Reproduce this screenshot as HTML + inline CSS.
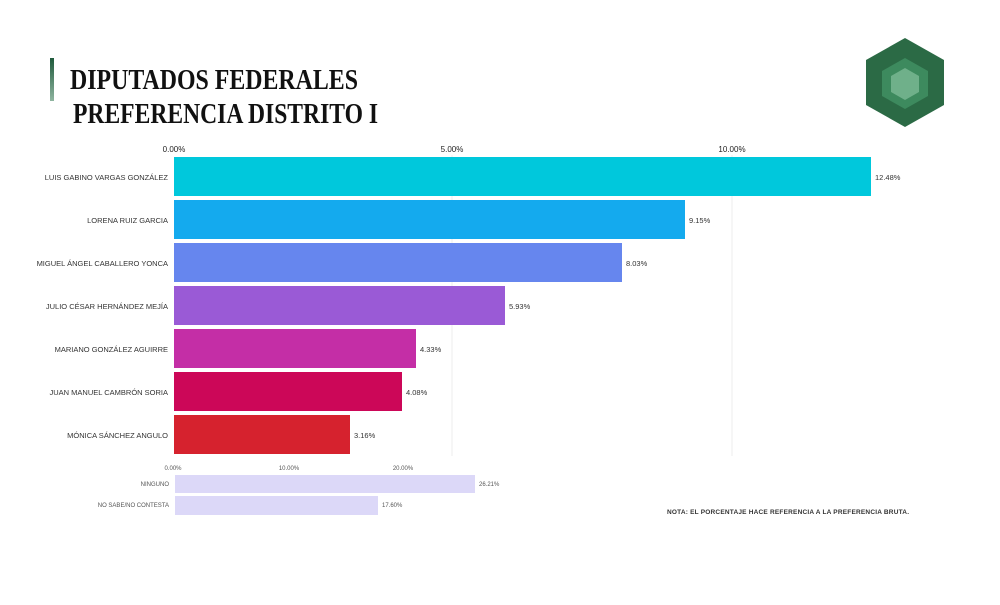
<!DOCTYPE html>
<html><head><meta charset="utf-8"><style>
body{margin:0;width:1000px;height:600px;background:#fff;overflow:hidden;font-family:"Liberation Sans",sans-serif}
</style></head><body>
<svg width="1000" height="600" xmlns="http://www.w3.org/2000/svg">
<defs><linearGradient id="g" x1="0" y1="0" x2="0" y2="1"><stop offset="0" stop-color="#1f5a3c"/><stop offset="1" stop-color="#8fb5a0"/></linearGradient></defs>
<rect x="50" y="58" width="4" height="43" fill="url(#g)"/>
<text x="70" y="89" font-family="Liberation Serif,serif" font-weight="bold" font-size="29" fill="#111" textLength="288" lengthAdjust="spacingAndGlyphs">DIPUTADOS FEDERALES</text>
<text x="73" y="123" font-family="Liberation Serif,serif" font-weight="bold" font-size="29" fill="#111" textLength="305" lengthAdjust="spacingAndGlyphs">PREFERENCIA DISTRITO I</text>
<polygon points="905,38 944,60 944,105 905,127 866,105 866,60" fill="#2b6a45"/>
<polygon points="905,58 928,71 928,96 905,109 882,96 882,71" fill="#3d8a5e"/>
<polygon points="905,68 919,76 919,92 905,100 891,92 891,76" fill="#6fb08a"/>
<g font-size="8" fill="#222">
<text x="174" y="152" text-anchor="middle">0.00%</text>
<text x="452" y="152" text-anchor="middle">5.00%</text>
<text x="732" y="152" text-anchor="middle">10.00%</text>
</g>
<line x1="452" y1="155" x2="452" y2="456" stroke="#eee"/>
<line x1="732" y1="155" x2="732" y2="456" stroke="#eee"/>
<g font-size="7.5" fill="#333" text-anchor="end">
<rect x="174" y="157" width="697" height="39" fill="#00c8dc"/><text x="168" y="180">LUIS GABINO VARGAS GONZÁLEZ</text>
<rect x="174" y="200" width="511" height="39" fill="#14aaee"/><text x="168" y="223">LORENA RUIZ GARCIA</text>
<rect x="174" y="243" width="448" height="39" fill="#6686ee"/><text x="168" y="266">MIGUEL ÁNGEL CABALLERO YONCA</text>
<rect x="174" y="286" width="331" height="39" fill="#9a5ad6"/><text x="168" y="309">JULIO CÉSAR HERNÁNDEZ MEJÍA</text>
<rect x="174" y="329" width="242" height="39" fill="#c42ea6"/><text x="168" y="352">MARIANO GONZÁLEZ AGUIRRE</text>
<rect x="174" y="372" width="228" height="39" fill="#cc0758"/><text x="168" y="395">JUAN MANUEL CAMBRÓN SORIA</text>
<rect x="174" y="415" width="176" height="39" fill="#d6222e"/><text x="168" y="438">MÓNICA SÁNCHEZ ANGULO</text>
</g>
<g font-size="7.5" fill="#333">
<text x="875" y="180">12.48%</text><text x="689" y="223">9.15%</text><text x="626" y="266">8.03%</text>
<text x="509" y="309">5.93%</text><text x="420" y="352">4.33%</text><text x="406" y="395">4.08%</text><text x="354" y="438">3.16%</text>
</g>
<g font-size="6" fill="#555">
<text x="173" y="470" text-anchor="middle">0.00%</text><text x="289" y="470" text-anchor="middle">10.00%</text><text x="403" y="470" text-anchor="middle">20.00%</text>
<rect x="175" y="475" width="300" height="18" fill="#dcd8f8"/><rect x="175" y="496" width="203" height="19" fill="#dcd8f8"/>
<text x="169" y="486" text-anchor="end">NINGUNO</text><text x="169" y="507" text-anchor="end">NO SABE/NO CONTESTA</text>
<text x="479" y="486">26.21%</text><text x="382" y="507">17.60%</text>
</g>
<text x="667" y="514" font-size="6.5" font-weight="bold" fill="#333" textLength="242">NOTA: EL PORCENTAJE HACE REFERENCIA A LA PREFERENCIA BRUTA.</text>
</svg>
</body></html>
